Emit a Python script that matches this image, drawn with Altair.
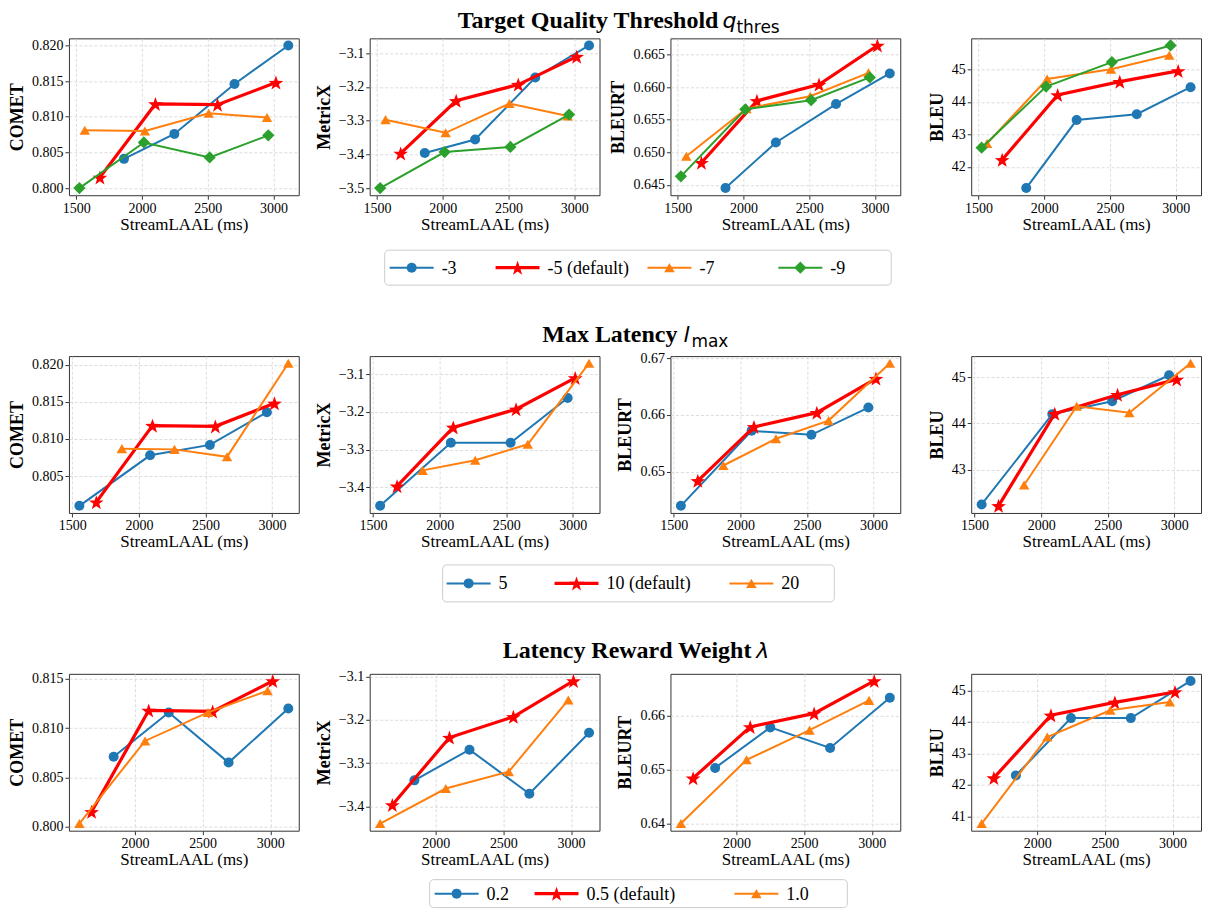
import math
import altair as alt
import pandas as pd

FONT = "Liberation Serif"
MATH_FONT = "DejaVu Sans"

# ------------------------- data -------------------------
metrics = ["COMET", "MetricX", "BLEURT", "BLEU"]
x_title = "StreamLAAL (ms)"

# default configuration (red, shared by every block)
def_x = [1680, 2102, 2574, 3018]
def_comet = [0.8015, 0.8118, 0.8117, 0.8148]
def_metricx = [-3.397, -3.241, -3.193, -3.110]
def_bleurt = [0.6484, 0.6579, 0.6604, 0.6664]
def_bleu = [42.22, 44.21, 44.62, 44.95]

# block 1: target quality threshold
tq3_x = [1863, 2246, 2703, 3112]
tq3_comet = [0.8041, 0.8076, 0.8146, 0.8200]
tq3_metricx = [-3.396, -3.356, -3.172, -3.077]
tq3_bleurt = [0.6445, 0.6515, 0.6574, 0.6621]
tq3_bleu = [41.35, 43.44, 43.62, 44.45]

tq7_x = [1565, 2022, 2507, 2950]
tq7_comet = [0.8081, 0.8080, 0.8105, 0.8099]
tq7_metricx = [-3.297, -3.336, -3.249, -3.286]
tq7_bleurt = [0.6494, 0.6567, 0.6586, 0.6622]
tq7_bleu = [42.72, 44.70, 45.00, 45.43]

tq9_x = [1524, 2014, 2514, 2960]
tq9_comet = [0.8000, 0.8064, 0.8043, 0.8074]
tq9_metricx = [-3.500, -3.393, -3.378, -3.282]
tq9_bleurt = [0.6463, 0.6566, 0.6580, 0.6615]
tq9_bleu = [42.59, 44.47, 45.22, 45.73]

# block 2: max latency
ml5_x = [1553, 2084, 2533, 2961]
ml5_comet = [0.8010, 0.8078, 0.8092, 0.8136]
ml5_metricx = [-3.449, -3.282, -3.282, -3.163]
ml5_bleurt = [0.6440, 0.6572, 0.6565, 0.6613]
ml5_bleu = [42.25, 44.20, 44.48, 45.04]

ml20_x = [1872, 2267, 2662, 3122]
ml20_comet = [0.8087, 0.8086, 0.8076, 0.8202]
ml20_metricx = [-3.355, -3.328, -3.286, -3.071]
ml20_bleurt = [0.6511, 0.6558, 0.6590, 0.6691]
ml20_bleu = [42.67, 44.37, 44.23, 45.30]

# block 3: latency reward weight
lw02_x = [1843, 2250, 2692, 3133]
lw02_comet = [0.8071, 0.8116, 0.8065, 0.8120]
lw02_metricx = [-3.340, -3.269, -3.371, -3.230]
lw02_bleurt = [0.6503, 0.6578, 0.6540, 0.6633]
lw02_bleu = [42.30, 44.12, 44.12, 45.30]

lw10_x = [1590, 2075, 2540, 2980]
lw10_comet = [0.8003, 0.8087, 0.8116, 0.8138]
lw10_metricx = [-3.440, -3.359, -3.320, -3.154]
lw10_bleurt = [0.6400, 0.6518, 0.6573, 0.6628]
lw10_bleu = [40.77, 43.52, 44.37, 44.63]

# legend labels
labels_1 = ["-3", "-5 (default)", "-7", "-9"]
labels_2 = ["5", "10 (default)", "20"]
labels_3 = ["0.2", "0.5 (default)", "1.0"]

# tick labels
x_ticks = [1500, 2000, 2500, 3000]
y_ticks_1 = [[0.800, 0.805, 0.810, 0.815, 0.820], [-3.5, -3.4, -3.3, -3.2, -3.1],
             [0.645, 0.650, 0.655, 0.660, 0.665], [42, 43, 44, 45]]
y_ticks_2 = [[0.805, 0.810, 0.815, 0.820], [-3.4, -3.3, -3.2, -3.1],
             [0.65, 0.66, 0.67], [43, 44, 45]]
y_ticks_3 = [[0.800, 0.805, 0.810, 0.815], [-3.4, -3.3, -3.2, -3.1],
             [0.64, 0.65, 0.66], [41, 42, 43, 44, 45]]
y_fmt_1 = [".3f", ".1f", ".3f", "d"]
y_fmt_2 = [".3f", ".1f", ".2f", "d"]
y_fmt_3 = [".3f", ".1f", ".2f", "d"]

# ------------------------- styles -------------------------
def star_path(n=5, inner=0.40):
    pts = []
    for i in range(2 * n):
        r = 1.0 if i % 2 == 0 else inner
        a = -math.pi / 2 + i * math.pi / n
        pts.append((r * math.cos(a), r * math.sin(a) + 0.1))
    return "M" + "L".join(f"{x:.3f},{y:.3f}" for x, y in pts) + "Z"

STAR = star_path()
BLUE = {"color": "#1f77b4", "shape": "circle", "size": 100, "width": 2.0}
RED = {"color": "#ff0000", "shape": STAR, "size": 240, "width": 3.2}
ORANGE = {"color": "#ff7f0e", "shape": "triangle-up", "size": 110, "width": 2.0}
GREEN = {"color": "#2ca02c", "shape": "diamond", "size": 150, "width": 2.0}

W, H = 230, 157
COL_SP, ROW_SP = 71, 161
TS = 24   # title font size
MS = 22   # math symbol font size
SS = 17   # subscript font size

# title parts: (text, x, size, weight, style, align, dy, font)
blocks = [
    {
        "series": [
            (BLUE, tq3_x, [tq3_comet, tq3_metricx, tq3_bleurt, tq3_bleu]),
            (RED, def_x, [def_comet, def_metricx, def_bleurt, def_bleu]),
            (ORANGE, tq7_x, [tq7_comet, tq7_metricx, tq7_bleurt, tq7_bleu]),
            (GREEN, tq9_x, [tq9_comet, tq9_metricx, tq9_bleurt, tq9_bleu]),
        ],
        "labels": labels_1, "yticks": y_ticks_1, "yfmt": y_fmt_1,
        "title": [("Target Quality Threshold", 650, TS, "bold", "normal", "right", 0, FONT),
                  ("q", 654, MS, "normal", "italic", "left", 0, MATH_FONT),
                  ("thres", 668, SS, "normal", "normal", "left", 5, MATH_FONT)],
        "title_y": -10,
        "legend_box": (316, 823, 212, 247), "legend_x": [321, 427, 579, 710],
    },
    {
        "series": [
            (BLUE, ml5_x, [ml5_comet, ml5_metricx, ml5_bleurt, ml5_bleu]),
            (RED, def_x, [def_comet, def_metricx, def_bleurt, def_bleu]),
            (ORANGE, ml20_x, [ml20_comet, ml20_metricx, ml20_bleurt, ml20_bleu]),
        ],
        "labels": labels_2, "yticks": y_ticks_2, "yfmt": y_fmt_2,
        "title": [("Max Latency", 609, TS, "bold", "normal", "right", 0, FONT),
                  ("l", 615, MS, "normal", "italic", "left", 0, MATH_FONT),
                  ("max", 623, SS, "normal", "normal", "left", 5, MATH_FONT)],
        "title_y": -14,
        "legend_box": (374, 766, 209, 246), "legend_x": [378, 486, 661],
    },
    {
        "series": [
            (BLUE, lw02_x, [lw02_comet, lw02_metricx, lw02_bleurt, lw02_bleu]),
            (RED, def_x, [def_comet, def_metricx, def_bleurt, def_bleu]),
            (ORANGE, lw10_x, [lw10_comet, lw10_metricx, lw10_bleurt, lw10_bleu]),
        ],
        "labels": labels_3, "yticks": y_ticks_3, "yfmt": y_fmt_3,
        "title": [("Latency Reward Weight", 683, TS, "bold", "normal", "right", 0, FONT),
                  ("\u03bb", 688, MS, "normal", "italic", "left", 0, MATH_FONT)],
        "title_y": -16,
        "legend_box": (361, 779, 206, 234), "legend_x": [366, 466, 666],
    },
]

HANDLE = 44
TEXT_GAP = 8
LEGEND_FS = 18


def padded(vals):
    lo, hi = min(vals), max(vals)
    m = 0.05 * (hi - lo)
    return [lo - m, hi + m]


def title_layers(parts, y):
    out = []
    for text, xpos, size, weight, style, align, dy, font in parts:
        out.append(
            alt.Chart(pd.DataFrame({"t": [text]}))
            .mark_text(text=text, font=font, fontSize=size, fontWeight=weight,
                       fontStyle=style, align=align, baseline="alphabetic", color="black")
            .encode(x=alt.value(xpos), y=alt.value(y + dy))
        )
    return out


def legend_layers(block):
    x0, x1, y0, y1 = block["legend_box"]
    yc = (y0 + y1) / 2
    one = pd.DataFrame({"k": [0]})
    out = [
        alt.Chart(one).mark_rect(fill="white", stroke="#cccccc", strokeWidth=1, cornerRadius=4)
        .encode(x=alt.value(x0), x2=alt.value(x1), y=alt.value(y0), y2=alt.value(y1))
    ]
    for (style, _, _), lab, hx in zip(block["series"], block["labels"], block["legend_x"]):
        out.append(
            alt.Chart(one).mark_rule(color=style["color"], strokeWidth=style["width"])
            .encode(x=alt.value(hx), x2=alt.value(hx + HANDLE), y=alt.value(yc))
        )
        out.append(
            alt.Chart(one).mark_point(shape=style["shape"], size=style["size"], filled=True,
                                      opacity=1, color=style["color"])
            .encode(x=alt.value(hx + HANDLE / 2), y=alt.value(yc))
        )
        out.append(
            alt.Chart(pd.DataFrame({"t": [lab]}))
            .mark_text(text=lab, font=FONT, fontSize=LEGEND_FS, align="left",
                       baseline="middle", color="black")
            .encode(x=alt.value(hx + HANDLE + TEXT_GAP), y=alt.value(yc + 1))
        )
    return out


panels = []
for block in blocks:
    all_x = [v for _, xs, _ in block["series"] for v in xs]
    xd = padded(all_x)
    xt = [t for t in x_ticks if xd[0] <= t <= xd[1]]
    for mi, metric in enumerate(metrics):
        all_y = [v for _, _, ys in block["series"] for v in ys[mi]]
        yd = padded(all_y)
        xenc = alt.X("x:Q", scale=alt.Scale(domain=xd, nice=False, zero=False),
                     axis=alt.Axis(values=xt, format="d", title=x_title))
        yenc = alt.Y("y:Q", scale=alt.Scale(domain=yd, nice=False, zero=False),
                     axis=alt.Axis(values=block["yticks"][mi], format=block["yfmt"][mi],
                                   title=metric))
        layers = []
        for style, xs, ys in block["series"]:
            df = pd.DataFrame({"x": xs, "y": ys[mi]})
            base = alt.Chart(df)
            layers.append(base.mark_line(color=style["color"], strokeWidth=style["width"])
                          .encode(x=xenc, y=yenc))
            layers.append(base.mark_point(shape=style["shape"], size=style["size"],
                                          filled=True, opacity=1, color=style["color"])
                          .encode(x=xenc, y=yenc))
        if mi == 0:
            layers += title_layers(block["title"], block["title_y"])
            layers += legend_layers(block)
        panels.append(alt.layer(*layers).properties(width=W, height=H))

chart = (
    alt.concat(*panels, columns=4, spacing={"row": ROW_SP, "column": COL_SP}, bounds="flush")
    .properties(padding={"left": 0, "top": 0, "right": 0, "bottom": 0})
    .configure_view(stroke="#333333", strokeWidth=1)
    .configure_axis(labelFont=FONT, titleFont=FONT, labelFontSize=14, titleFontSize=17,
                    labelColor="black", titleColor="black", grid=True, gridColor="#d3d3d3",
                    gridDash=[3, 2], gridWidth=0.8, domain=False, tickColor="#333333",
                    tickSize=4, labelPadding=2, titlePadding=4)
    .configure_axisY(titleFontWeight="bold", titleFontSize=18, titlePadding=5)
    .configure_axisX(titleFontWeight="normal", titlePadding=1)
)

chart.save("out.html", embed_options={"renderer": "svg", "actions": False})
